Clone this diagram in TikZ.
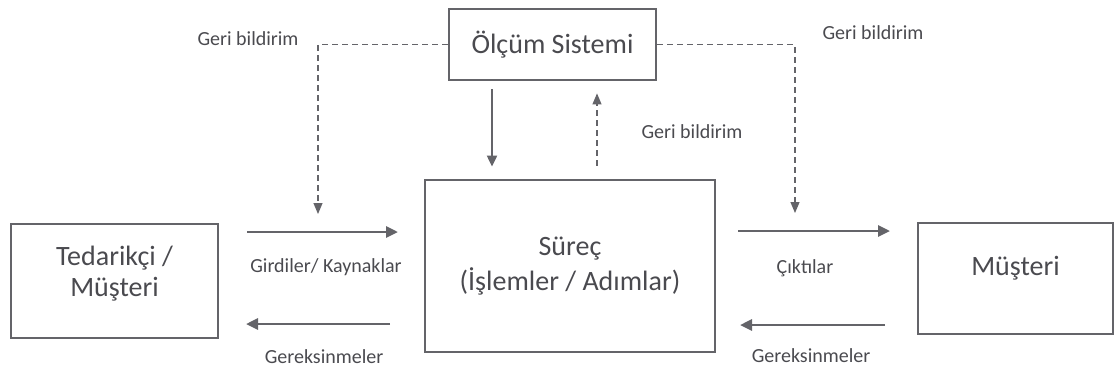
\documentclass[tikz,border=0pt]{standalone}
\usepackage{fontspec}
\setmainfont{Carlito}
\usetikzlibrary{arrows.meta}
\definecolor{linegray}{HTML}{646469}
\definecolor{textgray}{HTML}{4A4A4F}

\begin{document}
\begin{tikzpicture}[x=1pt, y=-1pt,
    box/.style={draw=linegray, line width=2.8pt, inner sep=0pt, align=center, text=textgray, font=\fontsize{28}{31}\selectfont},
    flow/.style={draw=linegray, line width=2.8pt, -{Triangle[length=12pt,width=11pt]}},
    fb/.style={draw=linegray, line width=1.1pt, dash pattern=on 6pt off 4pt, -{Triangle[length=11pt,width=9pt]}},
    lbl/.style={text=textgray, font=\fontsize{20}{24}\selectfont}]
    \useasboundingbox (0,0) rectangle (1115,376);

    % boxes
    \node[box, minimum width=207pt, minimum height=71pt] (olcum) at (552.5,44.5) {Ölçüm Sistemi};
    \node[box, minimum width=290pt, minimum height=172pt, font=\fontsize{28}{35}\selectfont] (surec) at (570,266) {Süreç\\(İşlemler / Adımlar)};
    \node[box, minimum width=207pt, text height=72pt, text depth=42pt] (ted) at (114.5,281) {Tedarikçi /\\Müşteri};
    \node[box, minimum width=195pt, text height=52pt, text depth=59pt] (must) at (1015.5,278.5) {Müşteri};

    % measurement <-> process
    \draw[flow, line width=2pt, -{Triangle[length=11pt,width=10pt]}] ([xshift=-60.5pt,yshift=-8pt]olcum.south) -- ([xshift=-78pt,yshift=12pt]surec.north);
    \draw[fb] ([xshift=27pt,yshift=13pt]surec.north) -- ([xshift=44.5pt,yshift=-12pt]olcum.south);
    \node[lbl] (fbmid) at (692,132) {Geri bildirim};

    % feedback to both sides
    \coordinate (fbL) at (318,214);
    \coordinate (fbR) at (795,213);
    \draw[fb] (olcum.west) -| (fbL);
    \draw[fb] (olcum.east) -| (fbR);
    \node[lbl] (fbleft) at (248,39) {Geri bildirim};
    \node[lbl] (fbright) at (873,33) {Geri bildirim};

    % inputs / requirements (left)
    \coordinate (inA) at (247,232);
    \coordinate (inB) at (398,232);
    \coordinate (reqA) at (390,324);
    \coordinate (reqB) at (246,324);
    \draw[flow] (inA) -- (inB);
    \draw[flow] (reqA) -- (reqB);
    \node[lbl] (inlbl) at (326,267) {Girdiler/ Kaynaklar};
    \node[lbl] (reqlbl) at (324,357) {Gereksinmeler};

    % outputs / requirements (right)
    \coordinate (outA) at (738,231);
    \coordinate (outB) at (890,231);
    \coordinate (req2A) at (885,325);
    \coordinate (req2B) at (740,325);
    \draw[flow] (outA) -- (outB);
    \draw[flow] (req2A) -- (req2B);
    \node[lbl] (outlbl) at (805,268) {Çıktılar};
    \node[lbl] (req2lbl) at (811,356) {Gereksinmeler};
\end{tikzpicture}
\end{document}
